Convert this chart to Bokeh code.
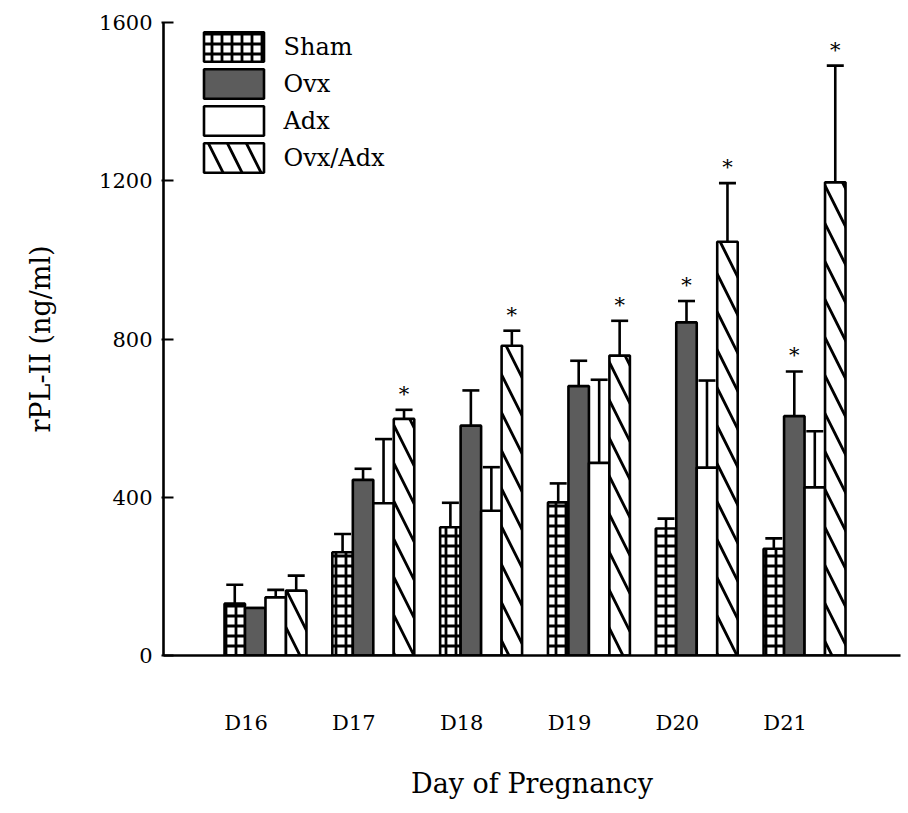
from bokeh.plotting import figure
from bokeh.models import (ColumnDataSource, Range1d, FixedTicker, Whisker, TeeHead,
                          Legend, LegendItem)
from bokeh.core.properties import value
from bokeh.embed import file_html
from bokeh.resources import INLINE

# ---------------- data ----------------
days = ["D16", "D17", "D18", "D19", "D20", "D21"]
series = ["Sham", "Ovx", "Adx", "Ovx/Adx"]

sham_mean = [131, 261, 324, 387, 321, 270]
sham_err = [48, 46, 62, 48, 25, 26]
ovx_mean = [120, 444, 581, 681, 842, 605]
ovx_err = [0, 28, 89, 64, 54, 113]
adx_mean = [147, 385, 366, 487, 475, 425]
adx_err = [19, 162, 110, 210, 220, 142]
ovxadx_mean = [164, 598, 783, 758, 1046, 1196]
ovxadx_err = [38, 23, 38, 88, 148, 295]

sham_sig = [0, 0, 0, 0, 0, 0]
ovx_sig = [0, 0, 0, 0, 1, 1]
adx_sig = [0, 0, 0, 0, 0, 0]
ovxadx_sig = [0, 1, 1, 1, 1, 1]

y_ticks = [0, 400, 800, 1200, 1600]

# ---------------- figure ----------------
FONT = "DejaVu Serif"
W, H = 908, 813
p = figure(width=W, height=H, output_backend="svg", toolbar_location=None,
           x_range=Range1d(-0.946, 5.89), y_range=Range1d(0, 1600),
           min_border_left=163, min_border_right=8, min_border_top=22,
           min_border_bottom=158)
p.outline_line_color = None
p.grid.visible = False
p.background_fill_color = "white"
p.border_fill_color = "white"

bar_w = 0.19
offsets = [-1.5, -0.5, 0.5, 1.5]
means = [sham_mean, ovx_mean, adx_mean, ovxadx_mean]
errs = [sham_err, ovx_err, adx_err, ovxadx_err]
sigs = [sham_sig, ovx_sig, adx_sig, ovxadx_sig]

styles = [
    dict(fill_color="white", hatch_pattern="cross", hatch_color="black",
         hatch_scale=10, hatch_weight=2.8),
    dict(fill_color="#5c5c5c"),
    dict(fill_color="white"),
    dict(fill_color="white", hatch_pattern="left_diagonal_line", hatch_color="black",
         hatch_scale=38, hatch_weight=2.8),
]

renderers = []
for k in range(4):
    xs = [i + offsets[k] * bar_w for i in range(len(days))]
    top = means[k]
    upper = [m + e for m, e in zip(means[k], errs[k])]
    src = ColumnDataSource(dict(x=xs, top=top, upper=upper))
    w = Whisker(base="x", lower="top", upper="upper", source=src,
                line_color="black", line_width=2.6,
                lower_head=None,
                upper_head=TeeHead(size=17, line_width=2.6, line_color="black"))
    p.add_layout(w)
    r = p.vbar(x="x", top="top", bottom=0, width=bar_w, source=src,
               line_color="black", line_width=2.6, **styles[k])
    renderers.append(r)
    sx = [x for x, s in zip(xs, sigs[k]) if s]
    sy = [u for u, s in zip(upper, sigs[k]) if s]
    if sx:
        p.text(x=sx, y=sy, text=["*"] * len(sx), text_align="center",
               text_baseline="middle", y_offset=-16, text_font=value(FONT),
               text_font_size="21px", text_color="black")

# axes
xa = p.xaxis[0]
xa.ticker = FixedTicker(ticks=[i - 0.18 for i in range(len(days))])
xa.major_label_overrides = {i - 0.18: d for i, d in enumerate(days)}
xa.major_tick_in = 0
xa.major_tick_out = 0
xa.minor_tick_line_color = None
xa.axis_line_width = 2.6
xa.axis_line_color = "black"
xa.major_label_standoff = 55
xa.major_label_text_font = FONT
xa.major_label_text_font_size = "21px"
xa.major_label_text_color = "black"
xa.axis_label = "Day of Pregnancy"
xa.axis_label_text_font = FONT
xa.axis_label_text_font_style = "normal"
xa.axis_label_text_font_size = "27px"
xa.axis_label_text_color = "black"
xa.axis_label_standoff = 30

ya = p.yaxis[0]
ya.ticker = FixedTicker(ticks=y_ticks)
ya.major_tick_in = 10
ya.major_tick_out = 2
ya.minor_tick_line_color = None
ya.axis_line_width = 2.6
ya.major_tick_line_width = 2
ya.major_label_standoff = 9
ya.major_label_text_font = FONT
ya.major_label_text_font_size = "21px"
ya.major_label_text_color = "black"
ya.axis_label = "rPL-II (ng/ml)"
ya.axis_label_text_font = FONT
ya.axis_label_text_font_style = "normal"
ya.axis_label_text_font_size = "27px"
ya.axis_label_text_color = "black"
ya.axis_label_standoff = 40

legend = Legend(items=[LegendItem(label=s, renderers=[r]) for s, r in zip(series, renderers)],
                location=(32.5, 479), glyph_width=75, glyph_height=37, spacing=0,
                label_standoff=13, padding=0, margin=0,
                label_text_font=FONT, label_text_font_size="24px",
                label_text_color="black",
                border_line_color=None, background_fill_alpha=0)
p.add_layout(legend)

open("out.html", "w").write(file_html(p, INLINE))
